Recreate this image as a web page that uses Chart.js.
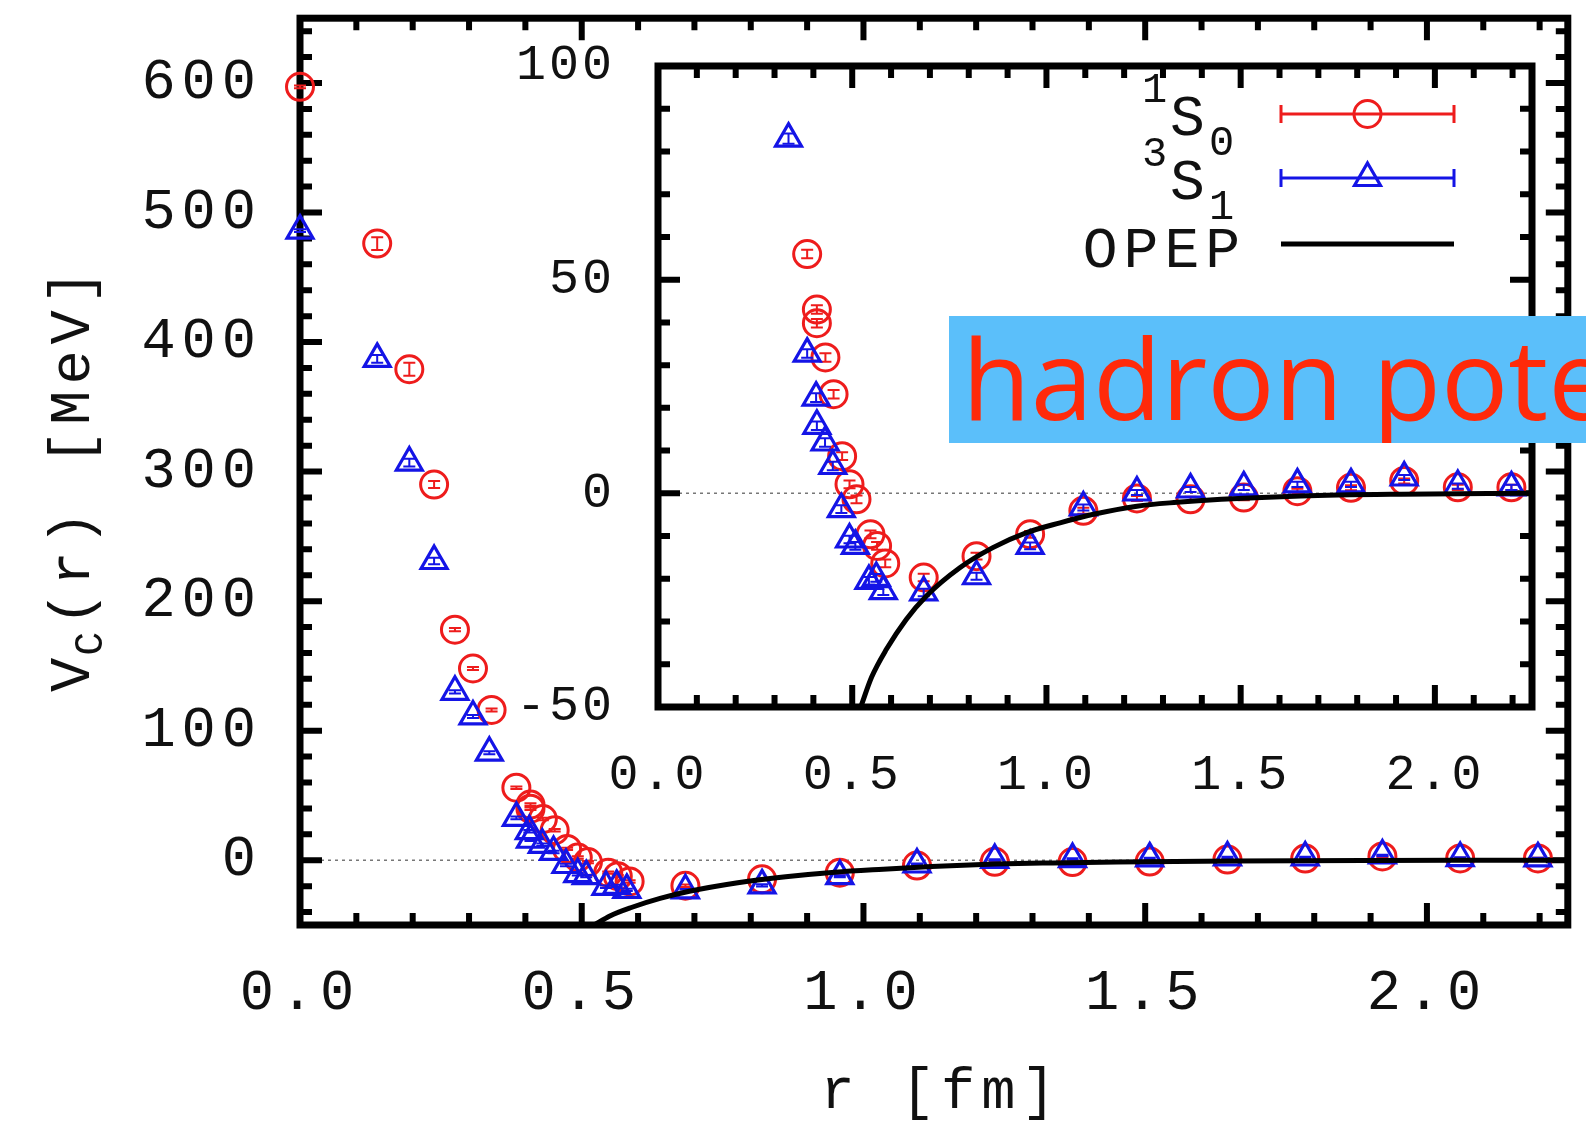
<!DOCTYPE html>
<html>
<head>
<meta charset="utf-8">
<title>V_C(r) lattice NN potential</title>
<script src="https://cdn.jsdelivr.net/npm/chart.js@4.4.1/dist/chart.umd.min.js"></script>
<style>
    html, body { margin: 0; padding: 0; background: #fff; overflow: hidden; }
    #wrap { position: relative; width: 1586px; height: 1124px; }
    #wrap canvas { position: absolute; left: 0; top: 0; }
    .tag {
        position: absolute; left: 949px; top: 316px; width: 637px; height: 127px;
        box-sizing: border-box; padding-left: 13px;
        background: #5bbffa; color: #ff2a0a;
        font-family: 'Open Sans', sans-serif; font-size: 112px; line-height: 121px;
        white-space: nowrap; overflow: hidden;
    }
</style>
</head>
<body>
<div id="wrap">
    <canvas id="mainChart" width="1586" height="1124"></canvas>
    <canvas id="insetChart" width="1586" height="1124"></canvas>
    <div class="tag">hadron potential</div>
</div>
<script>
// 1S0 channel (red circles)
const r1S0 = [0.000, 0.137, 0.194, 0.238, 0.275, 0.307, 0.340, 0.384, 0.409, 0.409, 0.431, 0.452, 0.474, 0.493, 0.511,
              0.547, 0.564, 0.585, 0.684, 0.820, 0.958, 1.095, 1.233, 1.371, 1.508, 1.646, 1.784, 1.921, 2.059, 2.197];
const v1S0 = [597, 476, 379, 290, 178, 148, 116, 56.0, 43.0, 39.8, 31.8, 23.2, 8.7, 2.1, -1.4,
              -9.6, -12.3, -16.4, -19.7, -14.7, -9.6, -4.1, -1.2, -1.4, -1.0, 0.5, 1.3, 2.9, 1.4, 1.4];
const e1S0 = [1.0, 5.0, 5.0, 2.7, 1.2, 1.2, 1.2, 1.0, 1.0, 1.0, 1.0, 1.0, 0.9, 0.9, 0.9,
              0.9, 0.9, 0.9, 0.9, 0.8, 0.8, 0.7, 0.6, 0.6, 0.6, 0.6, 0.6, 0.6, 0.6, 0.6];

// 3S1 channel (blue triangles)
const r3S1 = [0.000, 0.137, 0.194, 0.238, 0.275, 0.307, 0.336, 0.384, 0.407, 0.409, 0.430, 0.450, 0.472, 0.493, 0.508,
              0.543, 0.562, 0.580, 0.684, 0.820, 0.958, 1.095, 1.233, 1.371, 1.508, 1.646, 1.784, 1.921, 2.059, 2.197];
const v3S1 = [486, 387, 307, 231, 130, 111, 83, 32.7, 22.4, 15.8, 11.9, 6.4, -3.7, -10.8, -12.3,
              -20.5, -19.8, -22.9, -23.2, -19.4, -12.3, -3.3, 0.2, 0.9, 1.4, 2.1, 2.1, 3.7, 1.7, 1.4];
const e3S1 = [1.0, 3.0, 3.0, 2.5, 1.2, 1.2, 1.2, 1.0, 1.0, 1.0, 1.0, 1.0, 0.9, 0.9, 0.9,
              0.9, 0.9, 0.9, 0.9, 0.8, 0.8, 0.7, 0.6, 0.6, 0.6, 0.6, 0.6, 0.6, 0.6, 0.6];

// OPEP curve
const rOPEP = [0.522, 0.550, 0.588, 0.639, 0.691, 0.777, 0.862, 0.949, 1.035, 1.121, 1.233, 1.336, 1.450, 1.655, 1.913, 2.250];
const vOPEP = [-50.0, -43.0, -36.5, -29.5, -24.0, -17.4, -12.7, -9.2, -6.9, -4.9, -3.0, -2.1, -1.4, -0.6, -0.2, 0.0];

// tick labels
const xTickValues = [0, 0.5, 1.0, 1.5, 2.0];
const mainYTicks = [0, 100, 200, 300, 400, 500, 600];
const insetYTicks = [-50, 0, 50, 100];

const legendLabels = [
    {sup: '1', base: 'S', sub: '0'},
    {sup: '3', base: 'S', sub: '1'},
    {base: 'OPEP'}
];

const RED = '#ee1c1c';
const BLUE = '#1414e6';
const MONO = '"Liberation Mono", monospace';

Chart.defaults.font.family = MONO;
Chart.defaults.color = '#111';

function points(xs, ys) {
    return xs.map((x, i) => ({x: x, y: ys[i]}));
}

function tickPositions(min, max, step) {
    const out = [];
    for (let k = Math.ceil(min / step - 1e-9); k * step <= max + 1e-9; k++) out.push(k * step);
    return out;
}

function isMultiple(v, step) {
    return Math.abs(v / step - Math.round(v / step)) < 1e-6;
}

// gnuplot-like spacing between glyphs
const letterSpace = {
    id: 'letterSpace',
    beforeLayout(chart, args, o) { chart.ctx.letterSpacing = o.px + 'px'; },
    beforeDraw(chart, args, o) { chart.ctx.letterSpacing = o.px + 'px'; }
};

// frame with inward ticks on all sides plus the dotted zero line
const frameTicks = {
    id: 'frameTicks',
    beforeDatasetsDraw(chart, args, o) {
        const {ctx, chartArea: a, scales: {x, y}} = chart;
        ctx.save();

        ctx.strokeStyle = '#777';
        ctx.lineWidth = 1.5;
        ctx.setLineDash([3, 4]);
        const y0 = y.getPixelForValue(0);
        ctx.beginPath();
        ctx.moveTo(a.left, y0);
        ctx.lineTo(a.right, y0);
        ctx.stroke();
        ctx.setLineDash([]);

        ctx.strokeStyle = '#000';
        ctx.lineWidth = o.tickWidth;
        ctx.beginPath();
        tickPositions(x.min, x.max, o.xMinor).forEach(v => {
            const px = x.getPixelForValue(v);
            const len = isMultiple(v, o.xMajor) ? o.majorLen : o.minorLen;
            ctx.moveTo(px, a.bottom); ctx.lineTo(px, a.bottom - len);
            ctx.moveTo(px, a.top); ctx.lineTo(px, a.top + len);
        });
        tickPositions(y.min, y.max, o.yMinor).forEach(v => {
            const py = y.getPixelForValue(v);
            const len = isMultiple(v, o.yMajor) ? o.majorLen : o.minorLen;
            ctx.moveTo(a.left, py); ctx.lineTo(a.left + len, py);
            ctx.moveTo(a.right, py); ctx.lineTo(a.right - len, py);
        });
        ctx.stroke();

        ctx.lineWidth = o.frameWidth;
        ctx.strokeRect(a.left, a.top, a.right - a.left, a.bottom - a.top);
        ctx.restore();
    }
};

const errorBars = {
    id: 'errorBars',
    beforeDatasetDraw(chart, args) {
        const ds = chart.data.datasets[args.index];
        if (!ds.errors) return;
        const {ctx, chartArea: a, scales: {x, y}} = chart;
        ctx.save();
        if (ds.clip !== false) {
            ctx.beginPath();
            ctx.rect(a.left, a.top, a.right - a.left, a.bottom - a.top);
            ctx.clip();
        }
        ctx.strokeStyle = ds.borderColor;
        ctx.lineWidth = 2;
        ctx.beginPath();
        ds.data.forEach((p, i) => {
            const px = x.getPixelForValue(p.x);
            const lo = y.getPixelForValue(p.y - ds.errors[i]);
            const hi = y.getPixelForValue(p.y + ds.errors[i]);
            ctx.moveTo(px, lo); ctx.lineTo(px, hi);
            ctx.moveTo(px - 6, lo); ctx.lineTo(px + 6, lo);
            ctx.moveTo(px - 6, hi); ctx.lineTo(px + 6, hi);
        });
        ctx.stroke();
        ctx.restore();
    }
};

const axisTitles = {
    id: 'axisTitles',
    afterDraw(chart, args, o) {
        if (!o.show) return;
        const ctx = chart.ctx;
        const big = '57px ' + MONO, small = '40px ' + MONO;
        ctx.save();
        ctx.fillStyle = '#111';
        ctx.letterSpacing = '6px';
        ctx.textBaseline = 'alphabetic';
        ctx.textAlign = 'left';

        // y title, rotated, with subscript C
        ctx.save();
        ctx.translate(o.yTitleX, o.yTitleY);
        ctx.rotate(-Math.PI / 2);
        ctx.font = big;
        const wV = ctx.measureText('V').width;
        const wRest = ctx.measureText('(r) [MeV]').width;
        ctx.font = small;
        const wC = ctx.measureText('C').width;
        let tx = -(wV + wC + wRest) / 2;
        ctx.font = big;
        ctx.fillText('V', tx, 0);
        tx += wV;
        ctx.font = small;
        ctx.fillText('C', tx - 4, 13);
        tx += wC - 4;
        ctx.font = big;
        ctx.fillText('(r) [MeV]', tx, 0);
        ctx.restore();

        // x title
        ctx.font = big;
        ctx.textAlign = 'center';
        ctx.fillText('r [fm]', o.xTitleX, o.xTitleY);
        ctx.restore();
    }
};

const legendKey = {
    id: 'legendKey',
    afterDraw(chart, args, o) {
        if (!o.show) return;
        const ctx = chart.ctx;
        const big = '58px ' + MONO, small = '42px ' + MONO;
        ctx.save();
        ctx.letterSpacing = '6px';
        ctx.textBaseline = 'alphabetic';

        chart.data.datasets.forEach((ds, i) => {
            const lab = legendLabels[i];
            const ly = o.rowY[i];
            ctx.fillStyle = '#111';
            if (lab.sup) {
                ctx.textAlign = 'left';
                ctx.font = small;
                ctx.fillText(lab.sup, o.textRight - 96, ly - 12);
                ctx.font = big;
                ctx.fillText(lab.base, o.textRight - 68, ly + 21);
                ctx.font = small;
                ctx.fillText(lab.sub, o.textRight - 29, ly + 41);
            } else {
                ctx.textAlign = 'right';
                ctx.font = big;
                ctx.fillText(lab.base, o.textRight + 8, ly + 23);
            }

            ctx.strokeStyle = ds.borderColor;
            ctx.lineWidth = ds.errors ? 3 : 5;
            ctx.beginPath();
            ctx.moveTo(o.x0, ly); ctx.lineTo(o.x1, ly);
            if (ds.errors) {
                ctx.moveTo(o.x0, ly - 9); ctx.lineTo(o.x0, ly + 9);
                ctx.moveTo(o.x1, ly - 9); ctx.lineTo(o.x1, ly + 9);
            }
            ctx.stroke();
            if (ds.errors) {
                ctx.fillStyle = 'rgba(0,0,0,0)';
                ctx.lineWidth = ds.pointBorderWidth;
                Chart.helpers.drawPoint(ctx, {
                    pointStyle: ds.pointStyle, radius: ds.pointRadius,
                    borderWidth: ds.pointBorderWidth, rotation: 0
                }, (o.x0 + o.x1) / 2, ly);
            }
        });
        ctx.restore();
    }
};

function seriesSets(clipPoints) {
    const clip = clipPoints ? {} : {clip: false};
    return [
        Object.assign({
            label: '1S0', data: points(r1S0, v1S0), errors: e1S0,
            borderColor: RED, backgroundColor: 'rgba(0,0,0,0)',
            pointStyle: 'circle', pointRadius: 13.5, pointBorderWidth: 3, order: 1
        }, clip),
        Object.assign({
            label: '3S1', data: points(r3S1, v3S1), errors: e3S1,
            borderColor: BLUE, backgroundColor: 'rgba(0,0,0,0)',
            pointStyle: 'triangle', pointRadius: 15, pointBorderWidth: 3.2, order: 0
        }, clip),
        {
            label: 'OPEP', data: points(rOPEP, vOPEP), showLine: true,
            borderColor: '#000', borderWidth: 5, pointRadius: 0,
            cubicInterpolationMode: 'monotone', order: -1
        }
    ];
}

function makeChart(canvasId, cfg) {
    return new Chart(document.getElementById(canvasId), {
        type: 'scatter',
        data: {datasets: seriesSets(cfg.clipPoints)},
        options: {
            responsive: false,
            animation: false,
            events: [],
            layout: {padding: cfg.padding},
            plugins: {
                legend: {display: false},
                tooltip: {enabled: false},
                letterSpace: {px: cfg.spacing},
                frameTicks: Object.assign({majorLen: 22, minorLen: 12, tickWidth: 6, frameWidth: 7}, cfg.ticks),
                axisTitles: cfg.titles || {show: false},
                legendKey: cfg.legend || {show: false}
            },
            scales: {
                x: {
                    type: 'linear', min: 0, max: 2.25,
                    grid: {display: false, drawTicks: false},
                    border: {display: false},
                    afterBuildTicks: s => { s.ticks = xTickValues.map(v => ({value: v})); },
                    afterFit: s => {
                        s.height = cfg.xHeight;
                        s.paddingLeft = 0; s.paddingRight = 0;
                    },
                    ticks: {
                        padding: cfg.xPad, autoSkip: false, maxRotation: 0,
                        font: {size: cfg.fontSize}, color: '#111',
                        callback: v => Number(v).toFixed(1)
                    }
                },
                y: {
                    type: 'linear', min: cfg.yMin, max: cfg.yMax,
                    grid: {display: false, drawTicks: false},
                    border: {display: false},
                    afterBuildTicks: s => { s.ticks = cfg.yTicks.map(v => ({value: v})); },
                    afterFit: s => {
                        s.width = cfg.yWidth;
                        s.paddingTop = 0; s.paddingBottom = 0;
                    },
                    ticks: {padding: cfg.yPad, font: {size: cfg.fontSize}, color: '#111'}
                }
            }
        },
        plugins: [letterSpace, frameTicks, errorBars, axisTitles, legendKey]
    });
}

makeChart('mainChart', {
    clipPoints: false,
    padding: {left: 0, top: 17, right: 6, bottom: 0},
    xHeight: 199, yWidth: 300,
    xPad: 35, yPad: 38, fontSize: 57, spacing: 6,
    yMin: -50, yMax: 650, yTicks: mainYTicks,
    ticks: {xMinor: 0.1, xMajor: 0.5, yMinor: 20, yMajor: 100},
    titles: {show: true, yTitleX: 89, yTitleY: 476, xTitleX: 941, xTitleY: 1108}
});

makeChart('insetChart', {
    clipPoints: true,
    padding: {left: 0, top: 66, right: 54, bottom: 0},
    xHeight: 417, yWidth: 658,
    xPad: 39, yPad: 43, fontSize: 50, spacing: 3,
    yMin: -50, yMax: 100, yTicks: insetYTicks,
    ticks: {xMinor: 0.1, xMajor: 0.5, yMinor: 10, yMajor: 50},
    legend: {show: true, textRight: 1238, x0: 1281, x1: 1454, rowY: [114, 178, 244]}
});
</script>
</body>
</html>
